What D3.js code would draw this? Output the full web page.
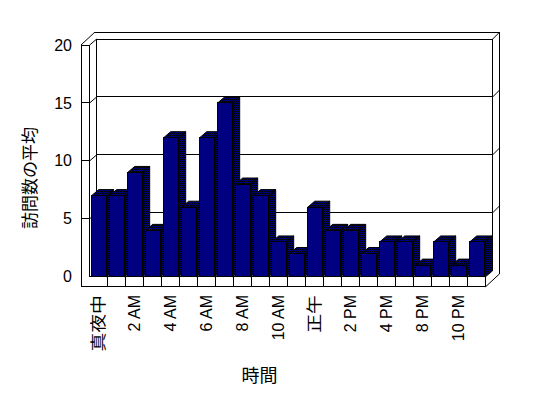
<!DOCTYPE html>
<html><head><meta charset="utf-8">
<script src="https://cdn.jsdelivr.net/npm/d3@7"></script>
<style>html,body{margin:0;padding:0;background:#fff}</style>
</head><body>
<svg id="c" width="548" height="398"></svg>
<script>
const categories = ["真夜中","1 AM","2 AM","3 AM","4 AM","5 AM","6 AM","7 AM","8 AM","9 AM","10 AM","11 AM","正午","1 PM","2 PM","3 PM","4 PM","5 PM","8 PM","9 PM","10 PM","11 PM"];
const values = [7,7,9,4,12,6,12,15,8,7,3,2,6,4,4,2,3,3,1,3,1,3];
const yTicks = [0,5,10,15,20];
const yTitle = "訪問数の平均";
const xTitle = "時間";

const svg = d3.select("#c");
const font = "'Liberation Sans', Arial, sans-serif";
const cjk = "'Noto Sans CJK JP', 'Liberation Sans', sans-serif";

const x = d3.scaleBand().domain(categories).range([89.7, 485.7]).padding(0);
const y = d3.scaleLinear().domain([0, 20]).range([276.7, 45]);
const DX = 7, DY = -6;     // bar / floor depth
const DX2 = 14, DY2 = -13; // back wall rear
const step = x.step();
const xL = x.range()[0], xR = x.range()[1];
const wallOuter = 81, floorBottom = 286.7;

const defs = svg.append("defs");
const pat = defs.append("pattern").attr("id","dith").attr("patternUnits","userSpaceOnUse").attr("width",2).attr("height",2);
pat.append("rect").attr("width",2).attr("height",2).attr("fill","#000");
pat.append("rect").attr("width",1).attr("height",1).attr("fill","#000080");
pat.append("rect").attr("x",1).attr("y",1).attr("width",1).attr("height",1).attr("fill","#000080");

const g = svg.append("g").attr("stroke","#000").attr("stroke-width",1).attr("fill","none").attr("shape-rendering","crispEdges");
function line(x1,y1,x2,y2){ g.append("line").attr("x1",x1).attr("y1",y1).attr("x2",x2).attr("y2",y2); }
function dline(x1,y1,x2,y2){ g.append("line").attr("x1",x1).attr("y1",y1).attr("x2",x2).attr("y2",y2).attr("shape-rendering","auto"); }

const y0 = y(0), yTop = y(20);
// back wall inner face
line(xL+DX, yTop+DY, xR+DX, yTop+DY);
line(xL+DX, yTop+DY, xL+DX, y0+DY);
line(xR+DX, yTop+DY, xR+DX, y0+DY);
line(xL+DX, y0+DY, xR+DX, y0+DY);
// back wall outer
line(wallOuter+DX2, yTop+DY2, xR+DX2, yTop+DY2);
line(xR+DX2, yTop+DY2, xR+DX2, floorBottom+DY2);
dline(xR+DX, yTop+DY, xR+DX2, yTop+DY2);
// left wall
line(wallOuter, yTop, wallOuter, floorBottom);
line(xL, yTop, xL, y0);
line(wallOuter, yTop, xL, yTop);
dline(wallOuter, yTop, wallOuter+DX2, yTop+DY2);
dline(xL, yTop, xL+DX, yTop+DY);
// gridlines
yTicks.forEach(v => {
  const yy = y(v);
  if (v > 0 && v < 20) line(xL+DX, yy+DY, xR+DX, yy+DY);
  if (v > 0 && v < 20) { line(wallOuter, yy, xL, yy); dline(xL, yy, xL+DX, yy+DY); dline(xR+DX, yy+DY, xR+DX2, yy+DY2); }
});
// floor
line(xL, y0, xR, y0);
line(wallOuter, floorBottom, xR, floorBottom);
line(xR, y0, xR, floorBottom);
categories.forEach((c,i) => { if (i>0) line(x(c), y0, x(c), floorBottom); });
dline(xR, y0, xR+DX, y0+DY);
dline(xR, floorBottom, xR+DX2, floorBottom+DY2);

// bars
const bw = step - 3;
const bg = svg.append("g").attr("stroke","#000").attr("stroke-width",1).attr("stroke-linejoin","miter");
categories.forEach((c,i) => {
  const v = values[i];
  const bx = x(c) + 2, bt = y(v), bb = y(0);
  bg.append("path").attr("fill","url(#dith)")
    .attr("d", `M${bx+bw},${bt} L${bx+bw+DX},${bt+DY} L${bx+bw+DX},${bb+DY} L${bx+bw},${bb} Z`);
  bg.append("path").attr("fill","url(#dith)")
    .attr("d", `M${bx},${bt} L${bx+DX},${bt+DY} L${bx+bw+DX},${bt+DY} L${bx+bw},${bt} Z`);
  bg.append("rect").attr("x",bx).attr("y",bt).attr("width",bw).attr("height",bb-bt).attr("fill","#000080").attr("shape-rendering","crispEdges");
});

// y tick labels
svg.append("g").selectAll("text").data(yTicks).join("text")
  .attr("x", 72).attr("y", d => y(d)).attr("dy","0.35em")
  .attr("text-anchor","end").attr("font-family",font).attr("font-size",16).attr("fill","#000").text(d => d);

// x labels
const isCJK = d => /[^\x00-\x7f]/.test(d);
svg.append("g").selectAll("text").data(categories.filter((c,i)=>i%2===0)).join("text")
  .attr("transform", d => `translate(${x(d)+step/2},295) rotate(-90)` + (isCJK(d) ? " scale(1.18,1)" : ""))
  .attr("dy","0.35em").attr("text-anchor","end")
  .attr("font-family", d => isCJK(d) ? cjk : font)
  .attr("fill","#000")
  .attr("font-size",16).text(d => d);

// titles
svg.append("text").attr("transform","translate(30,178) rotate(-90)").attr("text-anchor","middle").attr("dy","0.35em")
  .attr("font-family",cjk).attr("font-size",17).attr("fill","#000").text(yTitle);
svg.append("text").attr("x",259.5).attr("y",375.5).attr("dy","0.35em").attr("text-anchor","middle")
  .attr("font-family",cjk).attr("font-size",18).attr("fill","#000").text(xTitle);
</script>
</body></html>
